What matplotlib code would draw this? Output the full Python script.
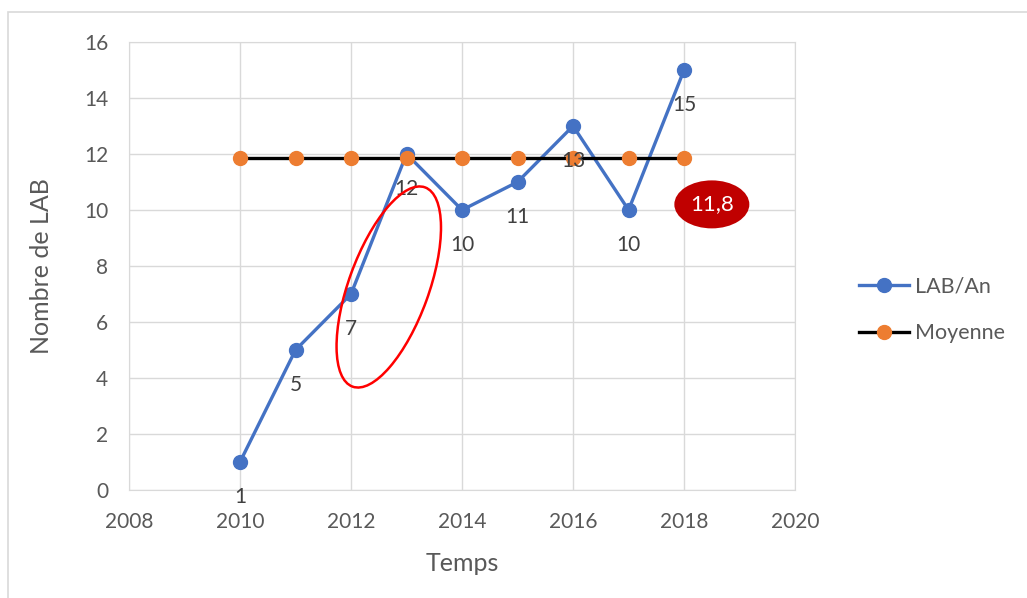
import matplotlib
matplotlib.use("Agg")
import matplotlib.pyplot as plt
from matplotlib.patches import Ellipse, Rectangle
from matplotlib.transforms import ScaledTranslation

plt.rcParams['font.family'] = ['Lato', 'DejaVu Sans']

# data
years = [2010, 2011, 2012, 2013, 2014, 2015, 2016, 2017, 2018]
lab_per_year = [1, 5, 7, 12, 10, 11, 13, 10, 15]
moyenne = [11.85] * len(years)
mean_label = "11,8"

BLUE = '#4472C4'
ORANGE = '#ED7D31'
GRID = '#d9d9d9'
TXT = '#595959'

fig = plt.figure(figsize=(10.27, 5.98), dpi=100)
ax = fig.add_axes([0.1256, 0.1806, 0.6486, 0.7492])

ax.plot(years, lab_per_year, color=BLUE, lw=2.4, marker='o', ms=10,
        label='LAB/An', zorder=3)
ax.plot(years, moyenne, color='black', lw=2.4, marker='o', ms=10,
        mfc=ORANGE, mec=ORANGE, label='Moyenne', zorder=4)

# data labels under the blue points
for x, y in zip(years, lab_per_year):
    ax.annotate(str(y), (x, y), xytext=(0, -25), textcoords='offset points',
                ha='center', va='center', fontsize=15, color='#404040', zorder=5)

ax.set_xlim(2008, 2020)
ax.set_ylim(0, 16)
ax.set_xticks(range(2008, 2021, 2))
ax.set_yticks(range(0, 17, 2))
ax.grid(True, color=GRID, lw=1)
ax.set_axisbelow(True)
for s in ax.spines.values():
    s.set_color(GRID)
ax.tick_params(length=0, labelsize=15, colors=TXT)
ax.tick_params(axis='x', pad=16)
ax.tick_params(axis='y', pad=15)
ax.set_xlabel('Temps', fontsize=18, color=TXT, labelpad=14)
ax.set_ylabel('Nombre de LAB', fontsize=18, color=TXT, labelpad=22)

# red highlight ellipse around 2012-2013
tr = fig.dpi_scale_trans + ScaledTranslation(2012.68, 7.25, ax.transData)
ax.add_patch(Ellipse((0, 0), 2.12, 0.80, angle=70, transform=tr,
                     fill=False, edgecolor='#FF0000', lw=1.8, zorder=6,
                     clip_on=False))

# mean value bubble
tr2 = fig.dpi_scale_trans + ScaledTranslation(2018.5, 10.2, ax.transData)
ax.add_patch(Ellipse((0, 0), 0.75, 0.48, transform=tr2, facecolor='#C00000',
                     edgecolor='none', zorder=6, clip_on=False))
ax.text(2018.5, 10.2, mean_label, color='white', fontsize=16,
        ha='center', va='center', zorder=7)

leg = fig.legend(loc='upper left', bbox_to_anchor=(0.818, 0.57), frameon=False,
                 fontsize=15.5, handlelength=2.3, labelspacing=1.25,
                 handletextpad=0.3)
for t in leg.get_texts():
    t.set_color(TXT)

# outer chart border
fig.patches.append(Rectangle((8 / 1027, -0.1), 1.2, (598 - 12) / 598 + 0.1,
                             transform=fig.transFigure, fill=False,
                             edgecolor=GRID, lw=1.2))

fig.savefig('out.png', dpi=100)
